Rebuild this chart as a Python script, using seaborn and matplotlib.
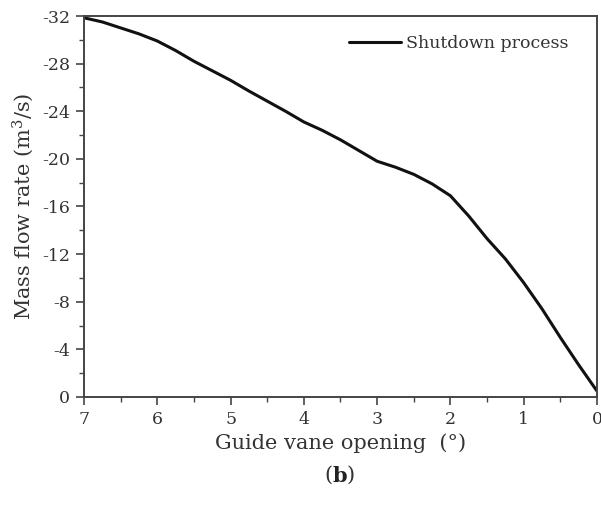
import matplotlib
matplotlib.use("Agg")
import matplotlib.pyplot as plt
import seaborn as sns
import pandas as pd
from matplotlib.ticker import MultipleLocator

opening = [7, 6.75, 6.5, 6.25, 6, 5.75, 5.5, 5.25, 5, 4.75, 4.5, 4.25, 4, 3.75, 3.5,
           3.25, 3, 2.75, 2.5, 2.25, 2, 1.75, 1.5, 1.25, 1, 0.75, 0.5, 0.25, 0]
flow = [-31.85, -31.5, -31.0, -30.5, -29.9, -29.1, -28.2, -27.4, -26.6, -25.7, -24.85,
        -24.0, -23.1, -22.4, -21.6, -20.7, -19.8, -19.3, -18.7, -17.9, -16.9, -15.2,
        -13.3, -11.6, -9.6, -7.4, -5.0, -2.7, -0.5]
series_name = "Shutdown process"
x_label = "Guide vane opening  (°)"
y_label = "Mass flow rate (m$^3$/s)"

sns.set_style("ticks")
plt.rcParams['font.family'] = ['DejaVu Serif']
plt.rcParams['mathtext.fontset'] = 'dejavuserif'

df = pd.DataFrame({"opening": opening, "flow": flow, "series": series_name})

fig = plt.figure(figsize=(6.01, 5.05), dpi=100)
ax = fig.add_axes([0.1398, 0.2139, 0.8535, 0.7544])
sns.lineplot(data=df, x="opening", y="flow", hue="series", palette=["#111111"],
             linewidth=2.2, ax=ax, sort=False)

ax.set_xlim(7, 0)
ax.set_ylim(0, -32)
ax.xaxis.set_major_locator(MultipleLocator(1))
ax.xaxis.set_minor_locator(MultipleLocator(0.5))
ax.yaxis.set_major_locator(MultipleLocator(4))
ax.yaxis.set_minor_locator(MultipleLocator(2))
ax.set_xticklabels([f"{int(t)}" for t in ax.get_xticks()])
ax.set_yticklabels([f"{int(t)}" for t in ax.get_yticks()])

for s in ax.spines.values():
    s.set_visible(True)
    s.set_color("#444444")
    s.set_linewidth(1.4)
ax.tick_params(which="major", direction="out", length=6, width=1.2, color="#444444",
               labelsize=12.5, labelcolor="#333333", top=False, right=False, pad=4)
ax.tick_params(which="minor", direction="out", length=3.5, width=1.0, color="#444444",
               top=False, right=False)

ax.set_xlabel(x_label, fontsize=15, color="#333333", labelpad=4)
ax.set_ylabel(y_label, fontsize=15, color="#333333", labelpad=4)

leg = ax.legend(loc="upper right", frameon=False, fontsize=12.5, handlelength=3.0,
                handletextpad=0.3, bbox_to_anchor=(0.975, 0.99))
for t in leg.get_texts():
    t.set_color("#333333")

fig.text(0.553, 0.058, "(", fontsize=15, ha="right", va="center", color="#333333")
fig.text(0.553, 0.058, "b", fontsize=15, ha="left", va="center", color="#222222", fontweight="bold")
fig.text(0.576, 0.058, ")", fontsize=15, ha="left", va="center", color="#333333")

fig.savefig("out.png", dpi=100)
